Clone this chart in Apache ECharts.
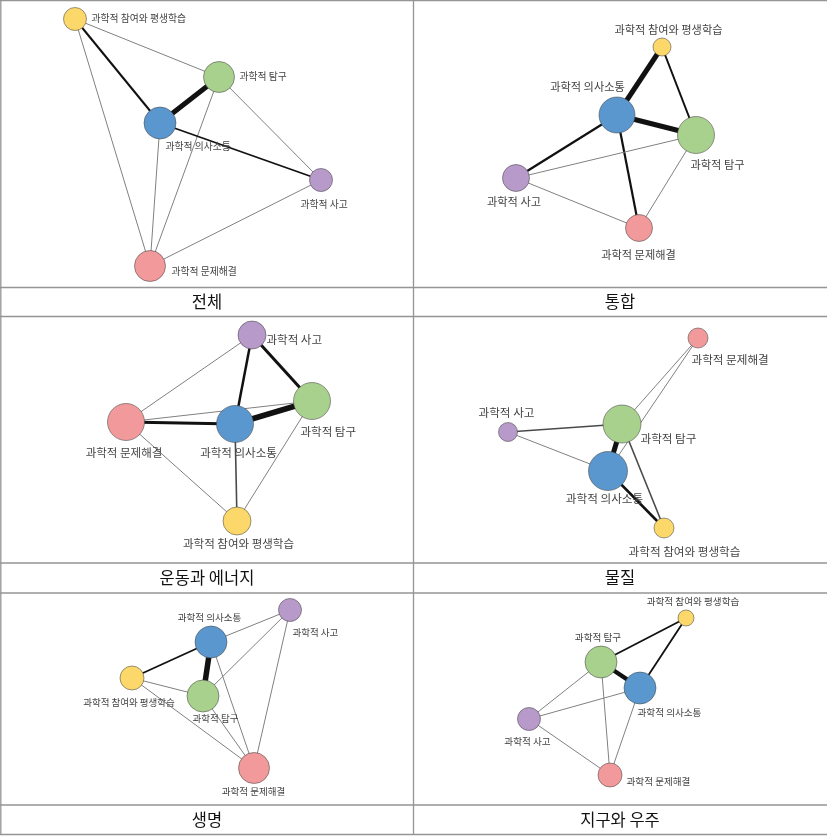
<!DOCTYPE html>
<html><head><meta charset="utf-8">
<script src="https://cdn.jsdelivr.net/npm/echarts@6/dist/echarts.min.js"></script>
<style>html,body{margin:0;padding:0;background:#fff}#c{width:827px;height:836px}</style>
</head><body><div id="c"></div>
<script>
// ---- data ----
const nodeNames = ['과학적 의사소통', '과학적 탐구', '과학적 참여와 평생학습', '과학적 사고', '과학적 문제해결'];
const titles = ['전체', '통합', '운동과 에너지', '물질', '생명', '지구와 우주'];
// node index: 0 의사소통, 1 탐구, 2 참여와 평생학습, 3 사고, 4 문제해결
// layout coordinates (panel units) and centrality (node size)
const p1X = [160, 219, 75, 321, 150], p1Y = [123, 77, 19, 180, 266], p1C = [32, 31, 23, 23, 31];
const p2X = [204, 283, 249, 103, 226], p2Y = [115, 135, 47, 178, 228], p2C = [36, 37, 18, 27, 27];
const p3X = [235, 312, 237, 252, 126], p3Y = [108, 85, 205, 19, 106], p3C = [37, 37, 28, 28, 37];
const p4X = [195, 209, 251, 95, 285], p4Y = [155, 108, 212, 116, 22], p4C = [39, 38, 20, 19, 20];
const p5X = [211, 203, 132, 290, 254], p5Y = [49, 103, 85, 17, 175], p5C = [32, 32, 24, 23, 31];
const p6X = [227, 188, 273, 116, 197], p6Y = [95, 69, 25, 126, 182], p6C = [32, 32, 16, 23, 24];
// links: [source, target, weight]
const p1L = [[0,1,5],[2,0,2],[2,1,1],[2,4,1],[1,3,1],[1,4,1],[0,3,1.8],[0,4,1],[3,4,1]];
const p2L = [[2,0,5],[2,1,2],[0,1,5],[0,3,2.2],[0,4,2.2],[1,3,1],[1,4,1],[3,4,1]];
const p3L = [[3,1,3],[3,0,2.5],[3,4,1],[1,0,5.5],[1,4,1],[4,0,3],[4,2,1],[0,2,1.6],[1,2,1]];
const p4L = [[4,1,1],[4,0,1],[3,1,1.5],[3,0,1],[1,0,5],[1,2,1.6],[0,2,2.5]];
const p5L = [[0,3,1],[0,2,1.8],[0,1,5.5],[0,4,1],[3,1,1],[3,4,1],[2,1,1],[2,4,1],[1,4,1]];
const p6L = [[2,1,1.8],[2,0,1.8],[1,0,4.5],[1,3,1],[1,4,1],[0,3,1],[0,4,1],[3,4,1]];

// ---- styles / layout ----
const nodeColors = ['#5B97CF', '#A9D18E', '#FCD76A', '#B79ACA', '#F29A9B'];
const panels = [
  {x: p1X, y: p1Y, c: p1C, l: p1L, box: [0, 0, 413, 287], font: 9.8,
   lab: [[6,24,'left'],[21,0,'left'],[17,0,'left'],[-20,25,'left'],[22,6,'left']]},
  {x: p2X, y: p2Y, c: p2C, l: p2L, box: [413, 0, 414, 287], font: 11.2,
   lab: [[-29,-28,'center'],[-5,30,'left'],[7,-17,'center'],[-1.5,24,'center'],[0,27,'center']]},
  {x: p3X, y: p3Y, c: p3C, l: p3L, box: [0, 316, 413, 247], font: 11.5,
   lab: [[4,29,'center'],[-11,31,'left'],[2,23,'center'],[15,5,'left'],[-1.5,31,'center']]},
  {x: p4X, y: p4Y, c: p4C, l: p4L, box: [413, 316, 414, 247], font: 11.6,
   lab: [[-3,28,'center'],[19,15,'left'],[21,24,'center'],[-1,-19,'center'],[-6,22,'left']]},
  {x: p5X, y: p5Y, c: p5C, l: p5L, box: [0, 593, 413, 212], font: 9.5,
   lab: [[-1,-24,'center'],[13,23,'center'],[-2.5,25,'center'],[3,23,'left'],[0,24,'center']]},
  {x: p6X, y: p6Y, c: p6C, l: p6L, box: [413, 593, 414, 212], font: 9.6,
   lab: [[-2,25,'left'],[-2.5,-24,'center'],[7.5,-16,'center'],[-1,23,'center'],[17,7,'left']]}
];
const FONT = '"Noto Sans CJK KR", "Noto Sans", sans-serif';

function edgeColor(w) {
  if (w <= 1) return '#808080';
  if (w < 1.7) return '#4a4a4a';
  return '#111111';
}

const grids = [], xAxes = [], yAxes = [], series = [];
panels.forEach((p, i) => {
  const [bx, by, bw, bh] = p.box;
  grids.push({left: bx, top: by, width: bw, height: bh, containLabel: false});
  xAxes.push({type: 'value', gridIndex: i, min: 0, max: bw, show: false});
  yAxes.push({type: 'value', gridIndex: i, min: 0, max: bh, inverse: true, show: false});
  const data = nodeNames.map((n, k) => {
    const s = p.c[k];
    const [dx, dy, al] = p.lab[k];
    return {
      name: n,
      value: [p.x[k], p.y[k]],
      symbolSize: s,
      itemStyle: {color: nodeColors[k], borderColor: 'rgba(70,70,70,0.55)', borderWidth: 1},
      label: {show: true, position: [s / 2 + dx, s / 2 + dy], align: al, verticalAlign: 'middle',
        fontSize: p.font, color: '#444', fontFamily: FONT}
    };
  });
  const links = p.l.map(([a, b, w]) => ({
    source: a, target: b,
    lineStyle: {width: w, color: edgeColor(w), opacity: 1, curveness: 0}
  }));
  series.push({
    type: 'graph', coordinateSystem: 'cartesian2d', xAxisIndex: i, yAxisIndex: i,
    symbol: 'circle', data: data, links: links, silent: true, animation: false,
    emphasis: {disabled: true}
  });
});

// borders and captions
const lineStyle = {stroke: '#959595', lineWidth: 1.3};
const graphics = [];
const hl = [0.7, 287.5, 316.5, 563, 593, 805, 834.5];
hl.forEach(y => graphics.push({type: 'line', shape: {x1: 0, y1: y, x2: 827, y2: y}, style: lineStyle, silent: true}));
graphics.push({type: 'line', shape: {x1: 413.5, y1: 0, x2: 413.5, y2: 835}, style: lineStyle, silent: true});
graphics.push({type: 'line', shape: {x1: 0.8, y1: 0, x2: 0.8, y2: 835}, style: lineStyle, silent: true});
const capY = [302, 302, 578, 578, 820, 820];
const capX = [207, 620, 207, 620, 207, 620];
titles.forEach((t, i) => graphics.push({
  type: 'text', x: capX[i], y: capY[i], silent: true,
  style: {text: t, fill: '#111', font: '16.5px ' + FONT, align: 'center', verticalAlign: 'middle'}
}));

const chart = echarts.init(document.getElementById('c'), null, {renderer: 'canvas'});
chart.setOption({
  animation: false,
  grid: grids, xAxis: xAxes, yAxis: yAxes, series: series,
  graphic: graphics
});
</script>
</body></html>
